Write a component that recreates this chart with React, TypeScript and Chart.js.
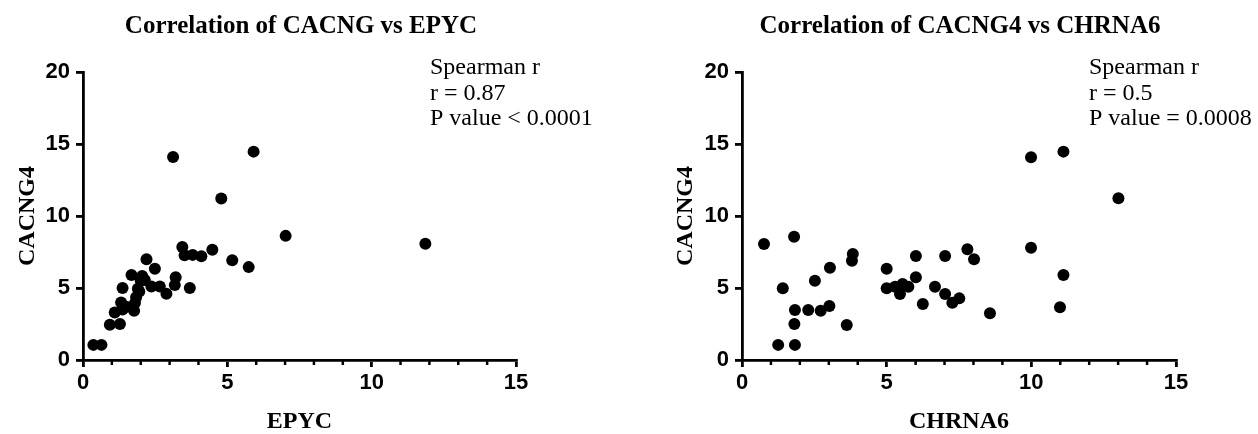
import React, { useEffect, useRef } from "react";
import { Chart, registerables } from "chart.js";

Chart.register(...registerables);

// ---- Data ----
const epycValues = [
  0.36, 0.64, 0.93, 1.28, 1.1, 1.37, 1.32, 1.37, 1.77, 1.8, 1.84, 1.9, 1.68, 2.05,
  2.2, 2.49, 2.14, 2.37, 2.66, 2.89, 3.18, 3.21, 3.12, 3.7, 3.44, 3.52, 3.8, 4.1,
  4.48, 4.79, 5.17, 5.74, 5.91, 7.02, 11.86, 1.5, 1.95, 2.0,
];
const cacng4VsEpyc = [
  1.05, 1.05, 2.45, 2.5, 3.3, 3.5, 4.0, 5.0, 3.42, 3.95, 4.35, 4.95, 5.9, 5.83,
  7.0, 6.33, 5.55, 5.1, 5.1, 4.6, 5.2, 5.75, 14.1, 5.0, 7.85, 7.27, 7.3, 7.2,
  7.66, 11.22, 6.92, 6.45, 14.47, 8.62, 8.07, 3.7, 4.75, 5.5,
];

const chrna6Values = [
  0.76, 1.8, 1.41, 1.25, 1.83, 1.81, 1.83, 2.29, 2.52, 2.72, 3.02, 3.04, 3.62, 3.83,
  3.8, 5.0, 5.0, 5.29, 5.46, 5.55, 5.75, 6.01, 6.01, 6.25, 6.67, 7.02, 7.02, 7.27,
  7.51, 7.79, 8.02, 8.57, 9.99, 11.11, 13.01, 9.99, 11.11, 10.99,
];
const cacng4VsChrna6 = [
  8.06, 8.56, 4.98, 1.05, 1.05, 2.5, 3.47, 3.47, 5.51, 3.42, 3.75, 6.41, 2.43, 7.36,
  6.9, 6.34, 4.98, 5.09, 4.58, 5.28, 5.09, 7.22, 5.74, 3.89, 5.09, 7.22, 4.58, 3.98,
  4.28, 7.69, 6.99, 3.24, 14.08, 14.47, 11.23, 7.8, 5.9, 3.66,
];

const xTickValues = [0, 5, 10, 15];
const yTickValues = [0, 5, 10, 15, 20];

const leftStats = ["Spearman r", "r = 0.87", "P value < 0.0001"];
const rightStats = ["Spearman r", "r = 0.5", "P value = 0.0008"];

const SERIF = "'Liberation Serif', 'Times New Roman', serif";
const SANS = "'Liberation Sans', Arial, sans-serif";

type PanelProps = {
  xs: number[];
  ys: number[];
  title: string;
  xLabel: string;
  yLabel: string;
  stats: string[];
  yAxisWidth: number;
  rightPad: number;
  yTitlePad: number;
  titleX: number;
  statsX: number;
};

function Panel(p: PanelProps) {
  const ref = useRef<HTMLCanvasElement | null>(null);

  useEffect(() => {
    if (!ref.current) return;
    const overlay = {
      id: "overlay",
      afterDraw(chart: any) {
        const ctx = chart.ctx as CanvasRenderingContext2D;
        ctx.save();
        ctx.fillStyle = "#000";
        ctx.font = `bold 25px ${SERIF}`;
        ctx.textAlign = "center";
        ctx.textBaseline = "alphabetic";
        ctx.fillText(p.title, p.titleX, 33);
        ctx.font = `24px ${SERIF}`;
        ctx.textAlign = "left";
        p.stats.forEach((s, i) => ctx.fillText(s, p.statsX, 74 + i * 25.5));
        // minor x ticks
        const xs = chart.scales.x;
        ctx.strokeStyle = "#000";
        ctx.lineWidth = 2.5;
        for (let v = Math.ceil(xs.min); v <= xs.max; v++) {
          if (v % 5 === 0) continue;
          const px = xs.getPixelForValue(v);
          ctx.beginPath();
          ctx.moveTo(px, xs.top);
          ctx.lineTo(px, xs.top + 5);
          ctx.stroke();
        }
        ctx.restore();
      },
    };

    const axisCommon = {
      type: "linear",
      ticks: {
        color: "#000",
        maxRotation: 0,
        font: { family: SANS, size: 22, weight: "bold" },
      },
      grid: {
        display: true,
        drawOnChartArea: false,
        drawTicks: true,
        tickLength: 7,
        color: "#000",
        lineWidth: 2.8,
      },
      border: { display: true, color: "#000", width: 2.8 },
    };

    const chart = new Chart(ref.current, {
      type: "scatter",
      data: {
        datasets: [
          {
            data: p.xs.map((x, i) => ({ x, y: p.ys[i] })),
            backgroundColor: "#000",
            borderWidth: 0,
            pointRadius: 6,
            pointHoverRadius: 6,
          },
        ],
      },
      options: {
        animation: false,
        responsive: false,
        events: [],
        layout: { padding: { left: 0, right: p.rightPad, top: 72, bottom: 0 } },
        plugins: { legend: { display: false }, tooltip: { enabled: false } },
        scales: {
          x: {
            ...axisCommon,
            min: 0,
            max: 15,
            afterFit: (s: any) => {
              s.height = 74;
            },
            afterBuildTicks: (s: any) => {
              s.ticks = xTickValues.map((v) => ({ value: v }));
            },
            ticks: { ...axisCommon.ticks, padding: 3 },
            title: {
              display: true,
              text: p.xLabel,
              color: "#000",
              font: { family: SERIF, size: 24, weight: "bold", lineHeight: 1 },
              padding: { top: 0, bottom: 0 },
            },
          },
          y: {
            ...axisCommon,
            min: 0,
            max: 20,
            afterFit: (s: any) => {
              s.width = p.yAxisWidth;
            },
            afterBuildTicks: (s: any) => {
              s.ticks = yTickValues.map((v) => ({ value: v }));
            },
            ticks: { ...axisCommon.ticks, padding: 6 },
            title: {
              display: true,
              text: p.yLabel,
              color: "#000",
              font: { family: SERIF, size: 24, weight: "bold", lineHeight: 1 },
              padding: { top: p.yTitlePad, bottom: 0 },
            },
          },
        },
      },
      plugins: [overlay],
    } as any);

    return () => chart.destroy();
  }, []);

  return (
    <canvas
      ref={ref}
      width={629}
      height={434}
      style={{ width: 629, height: 434, display: "block" }}
    />
  );
}

export default function App() {
  return (
    <div
      style={{
        position: "fixed",
        left: 0,
        top: 0,
        width: 1258,
        height: 434,
        background: "#fff",
        display: "flex",
      }}
    >
      <Panel
        xs={epycValues}
        ys={cacng4VsEpyc}
        title="Correlation of CACNG vs EPYC"
        xLabel="EPYC"
        yLabel="CACNG4"
        stats={leftStats}
        yAxisWidth={83}
        rightPad={113}
        yTitlePad={16}
        titleX={301}
        statsX={430}
      />
      <Panel
        xs={chrna6Values}
        ys={cacng4VsChrna6}
        title="Correlation of CACNG4 vs CHRNA6"
        xLabel="CHRNA6"
        yLabel="CACNG4"
        stats={rightStats}
        yAxisWidth={113}
        rightPad={82}
        yTitlePad={45}
        titleX={331}
        statsX={460}
      />
    </div>
  );
}
